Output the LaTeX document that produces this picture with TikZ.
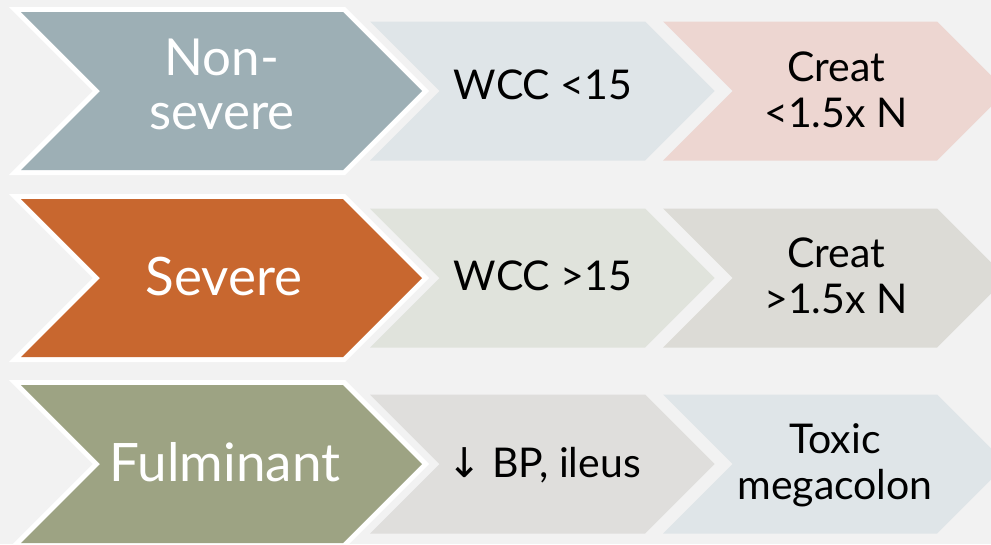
\documentclass[tikz,border=0pt]{standalone}
\usepackage{fontspec}
\setmainfont{Lato}
\newfontfamily\arrowfont{DejaVu Sans}

% palette
\definecolor{bgpaper}{HTML}{F2F2F2}
\definecolor{slate}{HTML}{9DAFB5}
\definecolor{slatelight}{HTML}{DFE5E8}
\definecolor{rose}{HTML}{EDD6D1}
\definecolor{rust}{HTML}{C8672F}
\definecolor{sage}{HTML}{E0E3DC}
\definecolor{stone}{HTML}{DCDBD6}
\definecolor{olive}{HTML}{9DA383}
\definecolor{pebble}{HTML}{DFDEDC}

% chevron outline: left x, right x (shoulder), middle y, half height
\newcommand\chevpath[4]{(#1,#3-#4) -- (#2,#3-#4) -- (#2+#4,#3) -- (#2,#3+#4) -- (#1,#3+#4) -- (#1+#4,#3) -- cycle}

\tikzset{
  headborder/.style={draw=white, line width=10pt, line join=miter},
  headtxt/.style={text=white, inner sep=0pt, font=\fontsize{53}{60}\selectfont},
  headtwo/.style={text=white, inner sep=0pt, align=center, font=\fontsize{51}{54}\selectfont},
  celltxt/.style={text=black, inner sep=0pt, font=\fontsize{41}{46}\selectfont},
  celltwo/.style={text=black, inner sep=0pt, align=center, font=\fontsize{41}{46}\selectfont},
}

\begin{document}
\begin{tikzpicture}[x=1pt, y=-1pt]
  \useasboundingbox (0,0) rectangle (991,544);
  \fill[bgpaper] (0,0) rectangle (991,544);
  \clip (0,0) rectangle (991,544);

  % row 1: non-severe
  \fill[rose] \chevpath{663}{937}{91}{69.5};
  \fill[slatelight] \chevpath{370}{645}{91}{69.5};
  \path[headborder] \chevpath{21}{343}{91}{79};
  \fill[slate] \chevpath{21}{343}{91}{79};
  \node[headtwo] (nonsevere) at (222,84) {Non-\\severe};
  \node[celltxt, anchor=base] (wcclow) at (543,99) {WCC <15};
  \node[celltwo] (creatlow) at (836,90) {Creat\\<1.5x N};

  % row 2: severe
  \fill[stone] \chevpath{663}{937}{278}{69.5};
  \fill[sage] \chevpath{370}{645}{278}{69.5};
  \path[headborder] \chevpath{21}{343}{278}{79};
  \fill[rust] \chevpath{21}{343}{278}{79};
  \node[headtxt, anchor=base] (severe) at (224,295) {Severe};
  \node[celltxt, anchor=base] (wcchigh) at (543,290) {WCC >15};
  \node[celltwo] (creathigh) at (836,275.5) {Creat\\>1.5x N};

  % row 3: fulminant
  \fill[slatelight] \chevpath{663}{937}{464}{69.5};
  \fill[pebble] \chevpath{370}{645}{464}{69.5};
  \path[headborder] \chevpath{21}{343}{464}{79};
  \fill[olive] \chevpath{21}{343}{464}{79};
  \node[headtxt, anchor=base] (fulminant) at (225,481.7) {Fulminant};
  \node[celltxt, anchor=base] (bpileus) at (544,477) {{\arrowfont ↓} BP, ileus};
  \node[celltwo] (megacolon) at (835,465) {Toxic\\megacolon};
\end{tikzpicture}
\end{document}
